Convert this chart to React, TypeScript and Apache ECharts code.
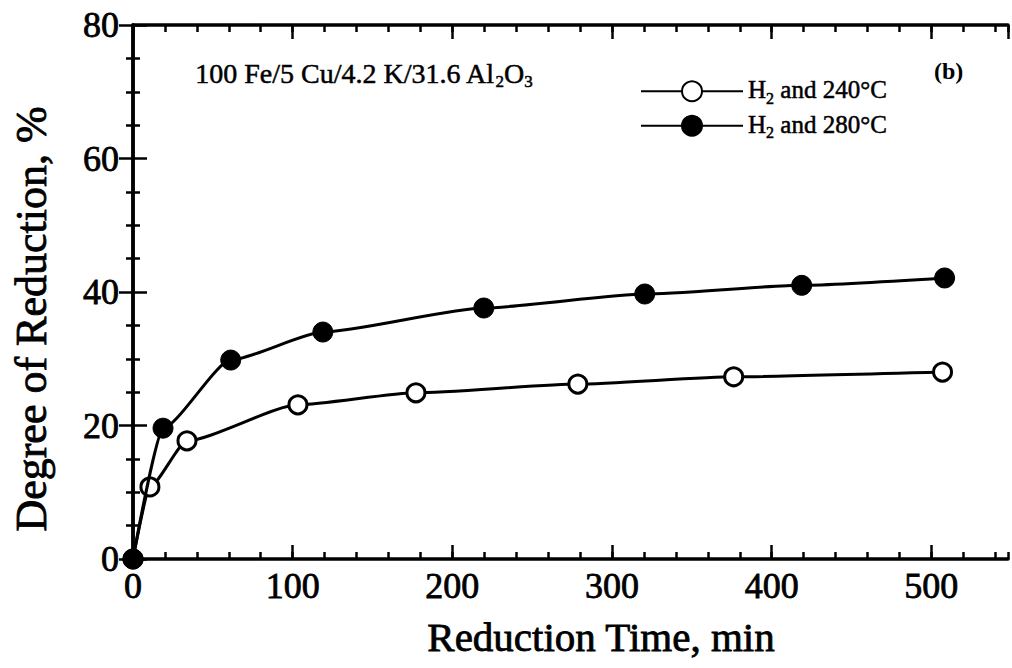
import React, { useEffect, useRef } from "react";
import * as echarts from "echarts";

// Reduction time (min) and degree of reduction (%) for each run
const timeH2240 = [0, 10.6, 33.8, 103.3, 177.2, 278.6, 376.2, 507];
const redH2240 = [0, 10.8, 17.7, 23.1, 24.9, 26.2, 27.3, 28.0];
const timeH2280 = [0, 18.8, 61.2, 118.9, 219.7, 320.5, 418.8, 508.3];
const redH2280 = [0, 19.6, 29.8, 34.0, 37.6, 39.7, 41.0, 42.1];

const seriesNames = ["H2 and 240°C", "H2 and 280°C"];
const xTicks = { min: 0, max: 548, major: 100, minor: 20 };
const yTicks = { min: 0, max: 80, major: 20, minorSplit: 4 };

const FONT = "'Liberation Serif', 'Times New Roman', serif";

const pairs = (xs: number[], ys: number[]) => xs.map((x, i) => [x, ys[i]]);

export default function App() {
  const ref = useRef<HTMLDivElement>(null);

  useEffect(() => {
    if (!ref.current) return;
    const chart = echarts.init(ref.current, null, { renderer: "svg" });

    const frameLine = { show: true, lineStyle: { color: "#000", width: 3.5 } };
    const baseX = {
      type: "value" as const,
      min: xTicks.min,
      max: xTicks.max,
      splitLine: { show: false },
    };
    const majorTick = { show: true, inside: true, length: 14, lineStyle: { color: "#000", width: 2.5 } };
    const minorTickX = { show: true, inside: true, length: 7, lineStyle: { color: "#000", width: 2.5 } };
    const tickLabel = {
      color: "#000",
      fontFamily: FONT,
      fontSize: 36,
      textBorderColor: "#000",
      textBorderWidth: 0.8,
    };

    // rich styles for legend (ECharts label style)
    const legendRich = {
      n: { fontFamily: FONT, fontSize: 25, color: "#000", lineHeight: 28, verticalAlign: "top", textBorderColor: "#000", textBorderWidth: 0.5 },
      s: { fontFamily: FONT, fontSize: 16, color: "#000", lineHeight: 16, padding: [13, 0, 0, 0], verticalAlign: "top", textBorderColor: "#000", textBorderWidth: 0.5 },
    };
    // rich styles for graphic text (zrender style)
    const noteRich = {
      n: { fontFamily: FONT, fontSize: 28, fill: "#000", lineHeight: 30, verticalAlign: "top", stroke: "#000", lineWidth: 0.5 },
      s: { fontFamily: FONT, fontSize: 17, fill: "#000", lineHeight: 17, padding: [14, 0, 0, 0], verticalAlign: "top", stroke: "#000", lineWidth: 0.5 },
      b: { fontFamily: FONT, fontSize: 24, fontWeight: "bold", fill: "#000", lineHeight: 28 },
    };

    const option: any = {
      animation: false,
      backgroundColor: "#fff",
      grid: { left: 133, top: 25, right: 4, bottom: 109, containLabel: false },
      xAxis: [
        {
          ...baseX,
          position: "bottom",
          interval: xTicks.major,
          axisLine: frameLine,
          axisTick: majorTick,
          axisLabel: { show: true, showMaxLabel: false, margin: 9, ...tickLabel },
        },
        {
          ...baseX,
          position: "bottom",
          interval: xTicks.minor,
          axisLine: { show: false },
          axisTick: minorTickX,
          axisLabel: { show: false },
        },
        {
          ...baseX,
          position: "top",
          interval: xTicks.major,
          axisLine: frameLine,
          axisTick: majorTick,
          axisLabel: { show: false },
        },
        {
          ...baseX,
          position: "top",
          interval: xTicks.minor,
          axisLine: { show: false },
          axisTick: minorTickX,
          axisLabel: { show: false },
        },
      ],
      yAxis: [
        {
          type: "value",
          position: "left",
          min: yTicks.min,
          max: yTicks.max,
          interval: yTicks.major,
          splitLine: { show: false },
          axisLine: frameLine,
          axisTick: majorTick,
          minorTick: { show: true, splitNumber: yTicks.minorSplit, length: 7, lineStyle: { color: "#000", width: 2.5 } },
          axisLabel: { margin: 14, ...tickLabel },
        },
        {
          type: "value",
          position: "right",
          min: yTicks.min,
          max: yTicks.max,
          interval: yTicks.major,
          splitLine: { show: false },
          axisLine: frameLine,
          axisTick: majorTick,
          minorTick: { show: true, splitNumber: yTicks.minorSplit, length: 7, lineStyle: { color: "#000", width: 2.5 } },
          axisLabel: { show: false },
        },
      ],
      legend: {
        left: 635,
        top: 72,
        orient: "vertical",
        itemWidth: 102,
        itemHeight: 25,
        itemGap: 5,
        data: seriesNames,
        formatter: (name: string) => `{n|H}{s|2}{n|${name.replace("H2", "")}}`,
        textStyle: { color: "#000", fontFamily: FONT, fontSize: 25, rich: legendRich },
      },
      graphic: [
        {
          type: "text",
          left: 195,
          top: 59,
          style: { text: "{n|100 Fe/5 Cu/4.2 K/31.6 Al}{s|2}{n|O}{s|3}", rich: noteRich },
        },
        {
          type: "text",
          left: 934,
          top: 59,
          style: { text: "{b|(b)}", rich: noteRich },
        },
        {
          type: "text",
          x: 601,
          y: 637,
          style: {
            text: "Reduction Time, min",
            fontFamily: FONT,
            fontSize: 41,
            fill: "#000",
            align: "center",
            verticalAlign: "middle",
            stroke: "#000",
            lineWidth: 0.8,
          },
        },
        {
          type: "text",
          x: 31,
          y: 319,
          rotation: Math.PI / 2,
          style: {
            text: "Degree of Reduction, %",
            fontFamily: FONT,
            fontSize: 44,
            fill: "#000",
            align: "center",
            verticalAlign: "middle",
            stroke: "#000",
            lineWidth: 0.8,
          },
        },
      ],
      series: [
        {
          name: seriesNames[0],
          type: "line",
          data: pairs(timeH2240, redH2240),
          smooth: 0.2,
          smoothMonotone: "x",
          clip: false,
          symbol: "circle",
          symbolSize: 18,
          lineStyle: { color: "#000", width: 3 },
          itemStyle: { color: "#fff", borderColor: "#000", borderWidth: 3 },
          z: 3,
        },
        {
          name: seriesNames[1],
          type: "line",
          data: pairs(timeH2280, redH2280),
          smooth: 0.2,
          smoothMonotone: "x",
          clip: false,
          symbol: "circle",
          symbolSize: 20,
          lineStyle: { color: "#000", width: 3 },
          itemStyle: { color: "#000", borderColor: "#000", borderWidth: 1 },
          z: 4,
        },
      ],
    };

    chart.setOption(option);
    return () => chart.dispose();
  }, []);

  return (
    <div
      ref={ref}
      style={{ position: "fixed", left: 0, top: 0, width: 1012, height: 668 }}
    />
  );
}
